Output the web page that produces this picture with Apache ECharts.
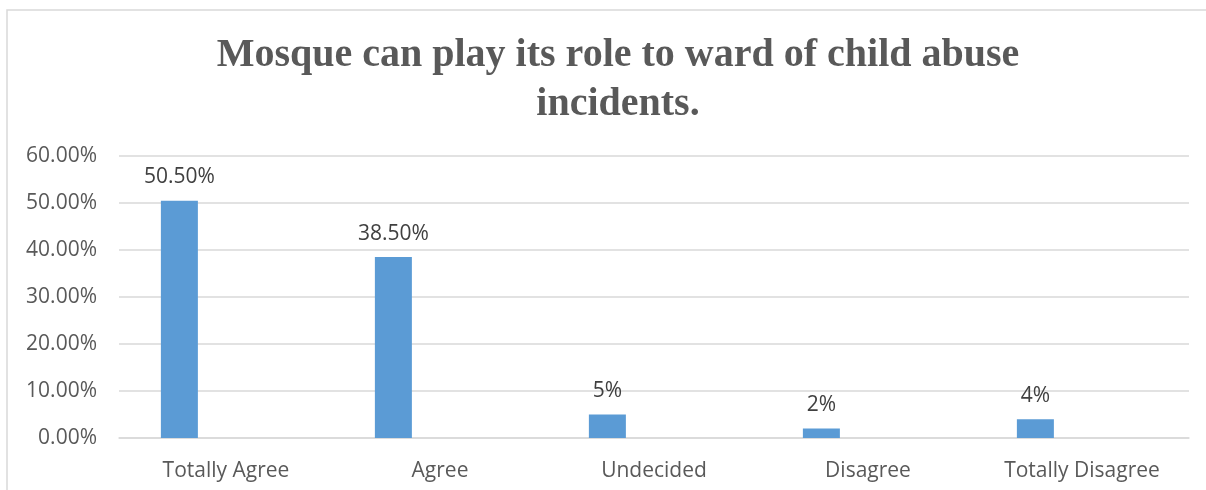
<!DOCTYPE html>
<html>
<head>
<meta charset="utf-8">
<script src="https://cdn.jsdelivr.net/npm/echarts@6/dist/echarts.min.js"></script>
<style>
html,body{margin:0;padding:0;background:#fff;}
#chart{width:1206px;height:490px;}
</style>
</head>
<body>
<div id="chart"></div>
<script>
var titleText = 'Mosque can play its role to ward of child abuse\nincidents.';
var categories = ['Totally Agree', 'Agree', 'Undecided', 'Disagree', 'Totally Disagree'];
var values = [0.505, 0.385, 0.05, 0.02, 0.04];
var valueLabels = ['50.50%', '38.50%', '5%', '2%', '4%'];
var yMin = 0, yMax = 0.6, yStep = 0.1;

var chart = echarts.init(document.getElementById('chart'), null, {renderer: 'canvas'});
var emptySeries = categories.map(function () { return null; });
var option = {
  animation: false,
  backgroundColor: '#ffffff',
  title: {
    text: titleText,
    left: 618,
    top: 31,
    textAlign: 'center',
    padding: 0,
    textStyle: {
      fontFamily: 'Liberation Serif',
      fontWeight: 'bold',
      fontSize: 40,
      lineHeight: 49,
      color: '#595959'
    }
  },
  graphic: [{
    type: 'rect',
    shape: {x: 7, y: 10, width: 1260, height: 520},
    style: {fill: 'none', stroke: '#d9d9d9', lineWidth: 1.5},
    silent: true
  }],
  grid: {left: 119, right: 17, top: 156, bottom: 52, containLabel: false},
  xAxis: {
    type: 'category',
    data: categories,
    axisLine: {show: true, lineStyle: {color: '#d9d9d9', width: 1.5}},
    axisTick: {show: false},
    axisLabel: {
      margin: 23,
      fontFamily: 'Open Sans',
      fontSize: 21,
      color: '#595959'
    }
  },
  yAxis: {
    type: 'value',
    min: yMin,
    max: yMax,
    interval: yStep,
    axisLine: {show: false},
    axisTick: {show: false},
    splitLine: {lineStyle: {color: '#d9d9d9', width: 1.5}},
    axisLabel: {
      margin: 22,
      fontFamily: 'Open Sans',
      fontSize: 21,
      color: '#595959',
      formatter: function (v) { return (v * 100).toFixed(2) + '%'; }
    }
  },
  series: [{
    type: 'bar',
    data: values,
    barWidth: 37,
    barGap: '26%',
    itemStyle: {color: '#5b9bd5'},
    label: {
      show: true,
      position: 'top',
      distance: 13,
      fontFamily: 'Open Sans',
      fontSize: 21,
      color: '#404040',
      formatter: function (p) { return valueLabels[p.dataIndex]; }
    }
  }, {
    type: 'bar',
    data: emptySeries,
    barWidth: 37,
    barGap: '26%'
  }, {
    type: 'bar',
    data: emptySeries,
    barWidth: 37,
    barGap: '26%'
  }]
};
chart.setOption(option);
</script>
</body>
</html>
